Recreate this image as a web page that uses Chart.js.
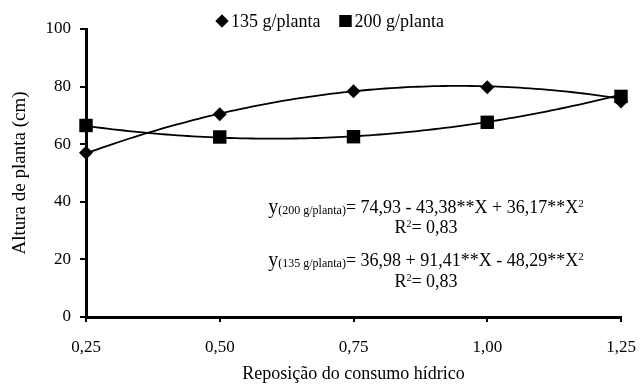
<!DOCTYPE html>
<html><head><meta charset="utf-8">
<script src="https://cdn.jsdelivr.net/npm/chart.js@4"></script>
<style>html,body{margin:0;padding:0;background:#fff}#wrap{width:640px;height:388px;position:relative}</style>
</head><body><div id="wrap"><canvas id="c"></canvas></div>
<script>
// Reposição do consumo hídrico (fração da ETc)
const reposicao = [0.25, 0.50, 0.75, 1.00, 1.25];
// Altura de planta observada (cm)
const altura135 = [57.0, 70.4, 78.4, 79.8, 74.8];
const altura200 = [66.5, 62.5, 62.6, 67.6, 76.6];
// Coeficientes das regressões quadráticas: b0 + b1·X + b2·X²
const coef135 = [36.98, 91.41, -48.29];
const coef200 = [74.93, -43.38, 36.17];
const r2_135 = '0,83';
const r2_200 = '0,83';
const xTicks = [0.25, 0.50, 0.75, 1.00, 1.25];
const yTicks = [0, 20, 40, 60, 80, 100];
const serieLabels = ['135 g/planta', '200 g/planta'];

const FONT = '"Liberation Serif", "DejaVu Serif", serif';

function curva(coef) {
  const pts = [];
  const x0 = reposicao[0], x1 = reposicao[reposicao.length - 1];
  const n = 100;
  for (let i = 0; i <= n; i++) {
    const x = x0 + (x1 - x0) * i / n;
    pts.push({x: x, y: coef[0] + coef[1] * x + coef[2] * x * x});
  }
  return pts;
}
const pontos = (ys) => reposicao.map((x, i) => ({x: x, y: ys[i]}));
const fmt = (v) => v.toFixed(2).replace('.', ',');

// Legenda desenhada no topo
const legendaPlugin = {
  id: 'legenda',
  afterDraw(chart) {
    const ctx = chart.ctx;
    ctx.save();
    ctx.font = '18px ' + FONT;
    ctx.fillStyle = '#000';
    ctx.textBaseline = 'middle';
    const y = 21;
    const items = [
      {style: 'rectRot', r: 6.5, text: serieLabels[0]},
      {style: 'rect', r: 8.5, text: serieLabels[1]}
    ];
    let x = 216;
    items.forEach((it) => {
      Chart.helpers.drawPoint(ctx, {pointStyle: it.style, radius: it.r, borderWidth: 0}, x + 6, y);
      ctx.fill();
      ctx.fillText(it.text, x + 15, y + 1);
      x += 15 + ctx.measureText(it.text).width + 19;
    });
    ctx.restore();
  }
};

// Equações de regressão com subscrito e expoente
function equacao(ctx, cx, base, sub, corpo) {
  const yF = '20px ' + FONT, big = '18px ' + FONT, small = '12px ' + FONT, sup = '11px ' + FONT;
  ctx.font = yF; const wy = ctx.measureText('y').width;
  ctx.font = small; const ws = ctx.measureText(sub).width;
  ctx.font = big; const wb = ctx.measureText(corpo).width;
  ctx.font = sup; const wsup = ctx.measureText('2').width;
  let x = cx - (wy + ws + wb + wsup) / 2;
  ctx.textBaseline = 'alphabetic';
  ctx.font = yF; ctx.fillText('y', x, base); x += wy;
  ctx.font = small; ctx.fillText(sub, x, base + 1); x += ws;
  ctx.font = big; ctx.fillText(corpo, x, base); x += wb;
  ctx.font = sup; ctx.fillText('2', x, base - 6);
}
function r2(ctx, cx, base, val) {
  const big = '18px ' + FONT, sup = '10px ' + FONT;
  ctx.font = big; const wR = ctx.measureText('R').width; const wv = ctx.measureText('= ' + val).width;
  ctx.font = sup; const w2 = ctx.measureText('2').width;
  let x = cx - (wR + w2 + wv) / 2;
  ctx.textBaseline = 'alphabetic';
  ctx.font = big; ctx.fillText('R', x, base); x += wR;
  ctx.font = sup; ctx.fillText('2', x, base - 6); x += w2;
  ctx.font = big; ctx.fillText('= ' + val, x, base);
}
const eqPlugin = {
  id: 'equacoes',
  afterDraw(chart) {
    const ctx = chart.ctx;
    ctx.save();
    ctx.fillStyle = '#000';
    const cx = 426;
    const e200 = '= ' + fmt(coef200[0]) + ' - ' + fmt(-coef200[1]) + '**X + ' + fmt(coef200[2]) + '**X';
    const e135 = '= ' + fmt(coef135[0]) + ' + ' + fmt(coef135[1]) + '**X - ' + fmt(-coef135[2]) + '**X';
    equacao(ctx, cx, 213, '(200 g/planta)', e200);
    r2(ctx, cx, 233, r2_200);
    equacao(ctx, cx, 266, '(135 g/planta)', e135);
    r2(ctx, cx, 287, r2_135);
    ctx.restore();
  }
};

new Chart(document.getElementById('c'), {
  type: 'scatter',
  data: {
    datasets: [
      {label: serieLabels[0] + ' (ajuste)', data: curva(coef135), showLine: true, borderColor: '#000', borderWidth: 1.8, pointRadius: 0, clip: false, order: 2},
      {label: serieLabels[1] + ' (ajuste)', data: curva(coef200), showLine: true, borderColor: '#000', borderWidth: 1.8, pointRadius: 0, clip: false, order: 2},
      {label: serieLabels[0], data: pontos(altura135), pointStyle: 'rectRot', pointRadius: 7, backgroundColor: '#000', borderColor: '#000', borderWidth: 0, clip: false, order: 1},
      {label: serieLabels[1], data: pontos(altura200), pointStyle: 'rect', pointRadius: 9.5, backgroundColor: '#000', borderColor: '#000', borderWidth: 0, clip: false, order: 1}
    ]
  },
  options: {
    responsive: true,
    maintainAspectRatio: false,
    animation: false,
    layout: {padding: {top: 29, right: 19, bottom: 0, left: 0}},
    plugins: {legend: {display: false}, tooltip: {enabled: false}},
    scales: {
      x: {
        type: 'linear', min: 0.25, max: 1.25,
        afterBuildTicks: (s) => { s.ticks = xTicks.map(v => ({value: v})); },
        afterFit: (s) => { s.height = 71; s.paddingLeft = 0; s.paddingRight = 0; },
        ticks: {callback: (v) => fmt(v), color: '#000', font: {family: FONT, size: 17}, padding: 15, maxRotation: 0},
        grid: {drawOnChartArea: false, drawTicks: true, tickLength: 5, color: '#000', lineWidth: 2},
        border: {display: true, color: '#000', width: 3},
        title: {display: true, text: 'Reposição do consumo hídrico', color: '#000', font: {family: FONT, size: 18}, padding: {top: 0, bottom: 3}}
      },
      y: {
        min: 0, max: 100,
        afterBuildTicks: (s) => { s.ticks = yTicks.map(v => ({value: v})); },
        afterFit: (s) => { s.width = 86; },
        ticks: {color: '#000', font: {family: FONT, size: 17}, padding: 9},
        grid: {drawOnChartArea: false, drawTicks: true, tickLength: 6, color: '#000', lineWidth: 2},
        border: {display: true, color: '#000', width: 3},
        title: {display: true, text: 'Altura de planta (cm)', color: '#000', font: {family: FONT, size: 19}, padding: {top: 9, bottom: 0}}
      }
    }
  },
  plugins: [legendaPlugin, eqPlugin]
});
</script>
</body></html>
